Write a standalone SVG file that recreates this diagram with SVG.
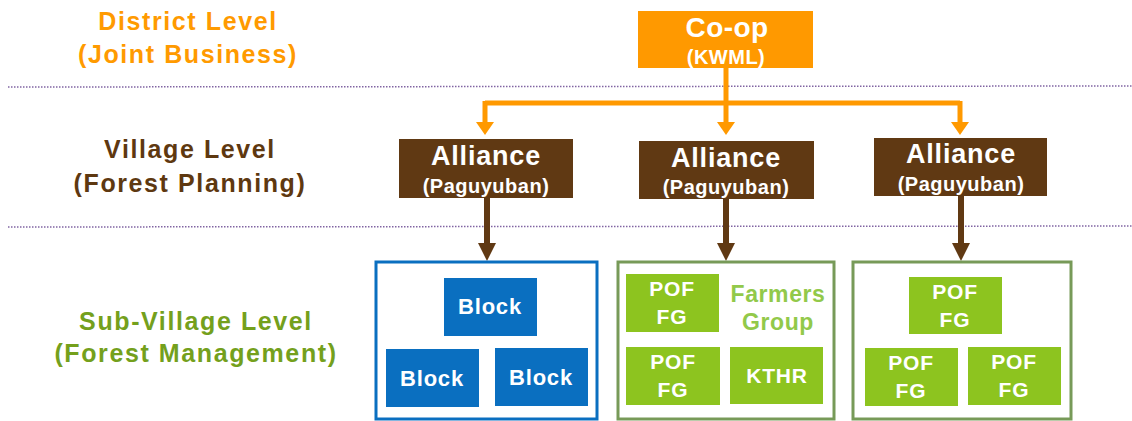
<svg xmlns="http://www.w3.org/2000/svg" width="1132" height="421" viewBox="0 0 1132 421">
  <style>
    text { font-family: "Liberation Sans", Arial, sans-serif; font-weight: bold; text-anchor: middle; }
    .lvl { font-size: 25px; letter-spacing: 1.6px; }
    .district { fill: #ff9a00; }
    .village { fill: #5e3810; }
    .sub { fill: #74a01c; }
    .sep { stroke: #8064a2; stroke-width: 1.5; stroke-dasharray: 1.5 1.5; fill: none; }
    .coop { fill: #ff9900; }
    .alliance { fill: #603913; }
    .block { fill: #0a6fc0; }
    .pof { fill: #8dc41f; }
    .wt { fill: #ffffff; }
    .big { font-size: 27px; letter-spacing: 0.8px; }
    .small { font-size: 20px; letter-spacing: 0.5px; }
    .item { font-size: 21px; letter-spacing: 0.8px; }
    .frame-blue { fill: #ffffff; stroke: #0a6fc0; stroke-width: 3; }
    .frame-green { fill: #ffffff; stroke: #779a58; stroke-width: 3; }
    .fg-label { fill: #92c94a; font-size: 23px; letter-spacing: 0.6px; }
    .link-o { stroke: #ff9900; stroke-width: 5; fill: none; }
    .link-b { stroke: #603913; stroke-width: 6; fill: none; }
  </style>

  <!-- level captions -->
  <g id="level-district">
    <text class="lvl district" x="188" y="30">District Level</text>
    <text class="lvl district" x="188" y="63">(Joint Business)</text>
  </g>
  <g id="level-village">
    <text class="lvl village" x="190" y="158">Village Level</text>
    <text class="lvl village" x="190" y="192">(Forest Planning)</text>
  </g>
  <g id="level-subvillage">
    <text class="lvl sub" x="196" y="330">Sub-Village Level</text>
    <text class="lvl sub" x="196" y="362">(Forest Management)</text>
  </g>

  <!-- level separators -->
  <g id="separators">
    <line class="sep" x1="8" y1="87" x2="1132" y2="86"/>
    <line class="sep" x1="8" y1="227" x2="1132" y2="226"/>
  </g>

  <!-- connectors -->
  <g id="connectors">
    <path class="link-o" d="M726,68 V103"/>
    <path class="link-o" d="M485,103 H960"/>
    <path class="link-o" d="M485,101 V124"/>
    <path class="link-o" d="M726,103 V124"/>
    <path class="link-o" d="M960,101 V124"/>
    <path d="M476,122 H494 L485,135 Z" fill="#ff9900"/>
    <path d="M717,122 H735 L726,135 Z" fill="#ff9900"/>
    <path d="M951,122 H969 L960,135 Z" fill="#ff9900"/>

    <path class="link-b" d="M487,198 V246"/>
    <path class="link-b" d="M726,199 V246"/>
    <path class="link-b" d="M961,196 V246"/>
    <path d="M478,243 H496 L487,261 Z" fill="#603913"/>
    <path d="M717,243 H735 L726,261 Z" fill="#603913"/>
    <path d="M952,243 H970 L961,261 Z" fill="#603913"/>
  </g>

  <!-- district level -->
  <g id="coop">
    <rect class="coop" x="638" y="11" width="175" height="57"/>
    <text class="wt" x="727" y="37" style="font-size:28px;letter-spacing:0.4px">Co-op</text>
    <text class="wt small" x="726" y="64">(KWML)</text>
  </g>

  <!-- village level -->
  <g id="alliance-1">
    <rect class="alliance" x="399" y="139" width="174" height="59"/>
    <text class="wt big" x="486" y="165">Alliance</text>
    <text class="wt small" x="486" y="193">(Paguyuban)</text>
  </g>
  <g id="alliance-2">
    <rect class="alliance" x="639" y="141" width="175" height="58"/>
    <text class="wt big" x="726" y="167">Alliance</text>
    <text class="wt small" x="726" y="194">(Paguyuban)</text>
  </g>
  <g id="alliance-3">
    <rect class="alliance" x="874" y="138" width="173" height="58"/>
    <text class="wt big" x="961" y="163">Alliance</text>
    <text class="wt small" x="961" y="191">(Paguyuban)</text>
  </g>

  <!-- sub-village level: blocks -->
  <g id="group-blocks">
    <rect class="frame-blue" x="376" y="262" width="221" height="157"/>
    <g id="block-top">
      <rect class="block" x="444" y="278" width="93" height="58"/>
      <text class="wt item" x="490" y="314" style="font-size:22px">Block</text>
    </g>
    <g id="block-left">
      <rect class="block" x="386" y="349" width="93" height="58"/>
      <text class="wt item" x="432" y="386" style="font-size:22px">Block</text>
    </g>
    <g id="block-right">
      <rect class="block" x="495" y="348" width="93" height="58"/>
      <text class="wt item" x="541" y="385" style="font-size:22px">Block</text>
    </g>
  </g>

  <!-- sub-village level: farmer groups -->
  <g id="group-farmers">
    <rect class="frame-green" x="618" y="262" width="216" height="157"/>
    <g id="pof-a">
      <rect class="pof" x="626" y="274" width="93" height="58"/>
      <text class="wt item" x="672" y="296">POF</text>
      <text class="wt item" x="672" y="324">FG</text>
    </g>
    <text class="fg-label" x="778" y="302">Farmers</text>
    <text class="fg-label" x="778" y="330">Group</text>
    <g id="pof-b">
      <rect class="pof" x="626" y="347" width="94" height="58"/>
      <text class="wt item" x="673" y="369">POF</text>
      <text class="wt item" x="673" y="397">FG</text>
    </g>
    <g id="kthr">
      <rect class="pof" x="730" y="347" width="93" height="57"/>
      <text class="wt item" x="777" y="383">KTHR</text>
    </g>
  </g>

  <g id="group-pof">
    <rect class="frame-green" x="853" y="262" width="218" height="157"/>
    <g id="pof-c">
      <rect class="pof" x="909" y="277" width="93" height="57"/>
      <text class="wt item" x="955" y="299">POF</text>
      <text class="wt item" x="955" y="327">FG</text>
    </g>
    <g id="pof-d">
      <rect class="pof" x="865" y="348" width="93" height="58"/>
      <text class="wt item" x="911" y="370">POF</text>
      <text class="wt item" x="911" y="398">FG</text>
    </g>
    <g id="pof-e">
      <rect class="pof" x="968" y="347" width="93" height="58"/>
      <text class="wt item" x="1014" y="369">POF</text>
      <text class="wt item" x="1014" y="397">FG</text>
    </g>
  </g>
</svg>
